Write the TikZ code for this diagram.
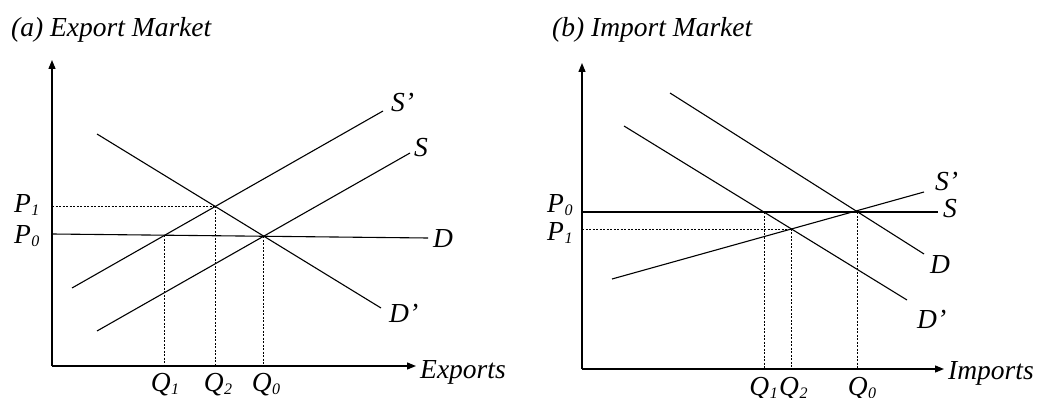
\documentclass[tikz,border=0pt]{standalone}
\usepackage{fontspec}
\setmainfont{Liberation Serif}
\usetikzlibrary{arrows.meta}
\newcommand{\lsub}[1]{\kern0.5pt\raisebox{-3.5pt}{\fontsize{16}{16}\selectfont #1}}
\begin{document}
\begin{tikzpicture}[x=1pt,y=-1pt,
  curve/.style={line width=1.1pt,black},
  axis/.style={line width=1.3pt,-{Triangle[length=9pt,width=7pt]}},
  guide/.style={line width=0.7pt,dash pattern=on 2pt off 1.5pt},
  lbl/.style={inner sep=0pt,font=\fontsize{27.5}{32}\selectfont\itshape},
  ttl/.style={inner sep=0pt,font=\fontsize{27.5}{32}\selectfont\itshape}]
\useasboundingbox[fill=white] (0,0) rectangle (1038,398);

% ---------- (a) Export market ----------
\node[ttl,anchor=base west] (ta) at (11,37) {(a) Export Market};
\coordinate (Oa) at (52,366);
\coordinate (Ya) at (52,60);
\coordinate (Xa) at (416,366);
\draw[axis] (Oa) -- (Ya);
\draw[axis] (Oa) -- (Xa);

\coordinate (Sp1) at (72,288);  \coordinate (Sp2) at (383,111);
\coordinate (S1) at (97,331);   \coordinate (S2) at (410,153);
\coordinate (Dp1) at (97,134);  \coordinate (Dp2) at (381,308);
\coordinate (D1) at (52,234);   \coordinate (D2) at (428,238);
\draw[curve] (Sp1) -- (Sp2);
\draw[curve] (S1) -- (S2);
\draw[curve] (Dp1) -- (Dp2);
\draw[curve] (D1) -- (D2);

\coordinate (Ea1) at (intersection of Sp1--Sp2 and D1--D2);
\coordinate (Ea2) at (intersection of Sp1--Sp2 and Dp1--Dp2);
\coordinate (Ea0) at (intersection of S1--S2 and Dp1--Dp2);
\draw[guide] (Ea1) -- (Ea1 |- Oa);
\draw[guide] (Ea2) -- (Ea2 |- Oa);
\draw[guide] (Ea0) -- (Ea0 |- Oa);
\draw[guide] (Oa |- Ea2) -- (Ea2);

\node[lbl,anchor=base west] (lSpa) at (391,112) {S’};
\node[lbl,anchor=base west] (lSa) at (414,157) {S};
\node[lbl,anchor=base west] (lDa) at (433,247) {D};
\node[lbl,anchor=base west] (lDpa) at (389,322) {D’};
\node[lbl,anchor=base west] (lP1a) at (14,212) {P\lsub{1}};
\node[lbl,anchor=base west] (lP0a) at (14,243) {P\lsub{0}};
\node[lbl,anchor=base] (lQ1a) at (165,391) {Q\lsub{1}};
\node[lbl,anchor=base] (lQ2a) at (218,391) {Q\lsub{2}};
\node[lbl,anchor=base] (lQ0a) at (266,391) {Q\lsub{0}};
\node[lbl,anchor=base west] (lXa) at (420,378) {Exports};

% ---------- (b) Import market ----------
\node[ttl,anchor=base west] (tb) at (552,37) {(b) Import Market};
\coordinate (Ob) at (582,369);
\coordinate (Yb) at (582,63);
\coordinate (Xb) at (944,369);
\draw[axis] (Ob) -- (Yb);
\draw[axis] (Ob) -- (Xb);

\coordinate (bS1) at (582,212);  \coordinate (bS2) at (938,212);
\coordinate (bD1) at (670,93);   \coordinate (bD2) at (924,254);
\coordinate (bDp1) at (624,126); \coordinate (bDp2) at (907,300);
\coordinate (bSp1) at (612,279); \coordinate (bSp2) at (924,192);
\draw[curve] (bS1) -- (bS2);
\draw[curve] (bD1) -- (bD2);
\draw[curve] (bDp1) -- (bDp2);
\draw[curve] (bSp1) -- (bSp2);

\coordinate (Eb1) at (intersection of bDp1--bDp2 and bS1--bS2);
\coordinate (Eb2) at (intersection of bDp1--bDp2 and bSp1--bSp2);
\coordinate (Eb0) at (intersection of bD1--bD2 and bS1--bS2);
\draw[guide] (Eb1) -- (Eb1 |- Ob);
\draw[guide] (Eb2) -- (Eb2 |- Ob);
\draw[guide] (Eb0) -- (Eb0 |- Ob);
\draw[guide] (Ob |- Eb2) -- (Eb2);

\node[lbl,anchor=base west] (lSpb) at (935,190) {S’};
\node[lbl,anchor=base west] (lSb) at (943,218) {S};
\node[lbl,anchor=base west] (lDb) at (930,273) {D};
\node[lbl,anchor=base west] (lDpb) at (917,328) {D’};
\node[lbl,anchor=base west] (lP0b) at (547,212) {P\lsub{0}};
\node[lbl,anchor=base west] (lP1b) at (547,240) {P\lsub{1}};
\node[lbl,anchor=base east] (lQ1b) at (778,395) {Q\lsub{1}};
\node[lbl,anchor=base west] (lQ2b) at (779,395) {Q\lsub{2}};
\node[lbl,anchor=base] (lQ0b) at (862,395) {Q\lsub{0}};
\node[lbl,anchor=base west] (lXb) at (948,379) {Imports};
\end{tikzpicture}
\end{document}
